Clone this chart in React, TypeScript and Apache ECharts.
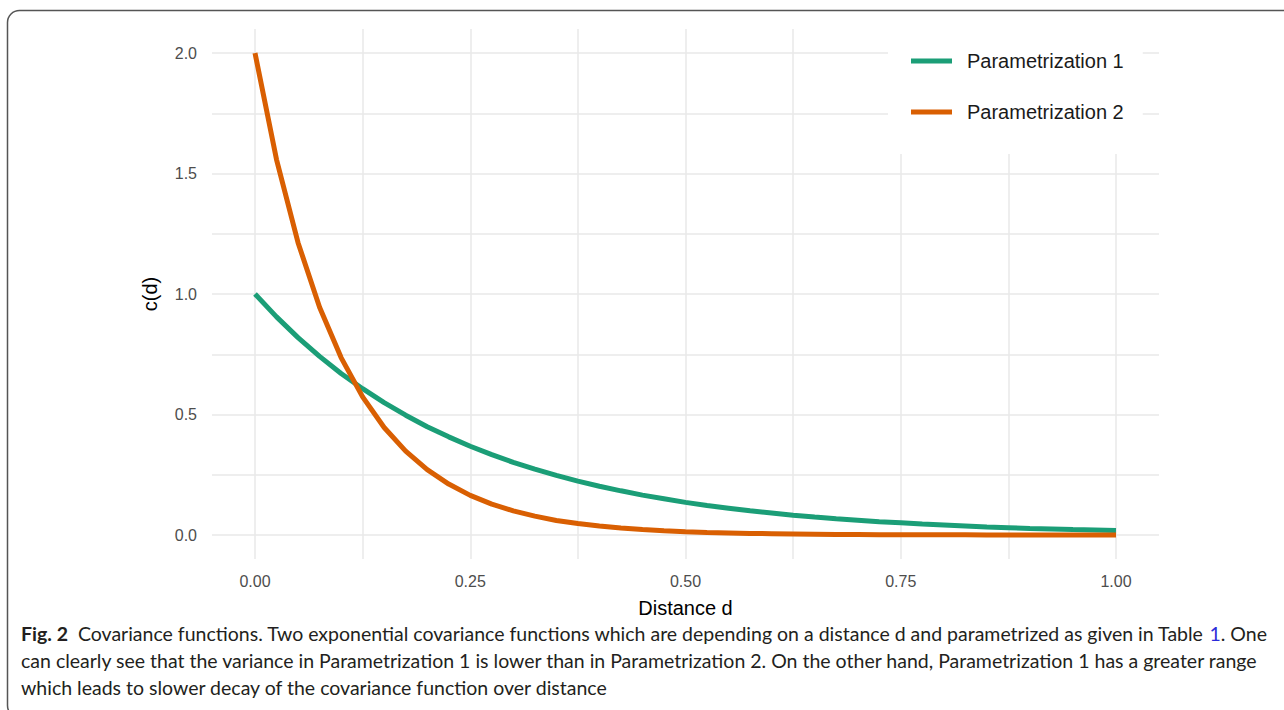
import React, { useEffect, useRef } from "react";
import * as echarts from "echarts";

const distances = [
  0, 0.025, 0.05, 0.075, 0.1, 0.125, 0.15, 0.175, 0.2, 0.225, 0.25, 0.275, 0.3, 0.325,
  0.35, 0.375, 0.4, 0.425, 0.45, 0.475, 0.5, 0.525, 0.55, 0.575, 0.6, 0.625, 0.65, 0.675,
  0.7, 0.725, 0.75, 0.775, 0.8, 0.825, 0.85, 0.875, 0.9, 0.925, 0.95, 0.975, 1.0,
];
const param1 = [
  1.0, 0.905, 0.819, 0.741, 0.67, 0.607, 0.549, 0.497, 0.449, 0.407, 0.368, 0.333, 0.301,
  0.273, 0.247, 0.223, 0.202, 0.183, 0.165, 0.15, 0.135, 0.122, 0.111, 0.1, 0.091, 0.082,
  0.074, 0.067, 0.061, 0.055, 0.05, 0.045, 0.041, 0.037, 0.033, 0.03, 0.027, 0.025, 0.022,
  0.02, 0.018,
];
const param2 = [
  2.0, 1.558, 1.213, 0.945, 0.736, 0.573, 0.446, 0.348, 0.271, 0.211, 0.164, 0.128, 0.1,
  0.078, 0.06, 0.047, 0.037, 0.029, 0.022, 0.017, 0.013, 0.01, 0.008, 0.006, 0.005, 0.004,
  0.003, 0.002, 0.002, 0.001, 0.001, 0.001, 0.001, 0.001, 0.0, 0.0, 0.0, 0.0, 0.0, 0.0, 0.0,
];
const seriesNames = ["Parametrization 1", "Parametrization 2"];
const xTickLabels = [0, 0.25, 0.5, 0.75, 1.0];
const yTickLabels = [0, 0.5, 1.0, 1.5, 2.0];
const captionLines = [
  "{b|Fig. 2}  Covariance functions. Two exponential covariance functions which are depending on a distance d and parametrized as given in Table {l|1}. One",
  "can clearly see that the variance in Parametrization 1 is lower than in Parametrization 2. On the other hand, Parametrization 1 has a greater range",
  "which leads to slower decay of the covariance function over distance",
];

const GRID_COLOR = "#e8e8e8";
const TICK_COLOR = "#4d4d4d";
const SANS = "'Liberation Sans', Arial, sans-serif";
const CAPTION_FONT = "Lato, 'Open Sans', sans-serif";
const CAPTION_SIZE = 19.5;

const isTick = (v: number, list: number[]) => list.some((t) => Math.abs(t - v) < 1e-9);

export default function App() {
  const ref = useRef<HTMLDivElement>(null);
  useEffect(() => {
    if (!ref.current) return;
    const chart = echarts.init(ref.current, null, { renderer: "svg" });
    const captionY = [633, 660, 687];
    chart.setOption({
      animation: false,
      backgroundColor: "#ffffff",
      grid: [
        { left: 255, width: 861, top: 29, height: 530 },
        { left: 212, width: 947, top: 53, height: 482 },
      ],
      xAxis: [
        {
          type: "value",
          gridIndex: 0,
          min: 0,
          max: 1,
          interval: 0.125,
          axisLine: { show: false },
          axisTick: { show: false },
          splitLine: { show: true, lineStyle: { color: GRID_COLOR, width: 1.5 } },
          axisLabel: {
            margin: 14,
            fontSize: 16,
            fontFamily: SANS,
            color: TICK_COLOR,
            formatter: (v: number) => (isTick(v, xTickLabels) ? v.toFixed(2) : ""),
          },
          name: "Distance d",
          nameLocation: "middle",
          nameGap: 39,
          nameTextStyle: { fontSize: 20, fontFamily: SANS, color: "#000" },
        },
        {
          type: "value",
          gridIndex: 1,
          min: 0,
          max: 1,
          show: false,
        },
      ],
      yAxis: [
        {
          type: "value",
          gridIndex: 0,
          min: -0.1,
          max: 2.1,
          show: false,
        },
        {
          type: "value",
          gridIndex: 1,
          min: 0,
          max: 2,
          interval: 0.25,
          axisLine: { show: false },
          axisTick: { show: false },
          splitLine: { show: true, lineStyle: { color: GRID_COLOR, width: 1.5 } },
          axisLabel: {
            margin: 15,
            fontSize: 16,
            fontFamily: SANS,
            color: TICK_COLOR,
            formatter: (v: number) => (isTick(v, yTickLabels) ? v.toFixed(1) : ""),
          },
          name: "c(d)",
          nameLocation: "middle",
          nameGap: 52,
          nameRotate: 90,
          nameTextStyle: { fontSize: 20, fontFamily: SANS, color: "#000" },
        },
      ],
      legend: {
        orient: "vertical",
        left: 888,
        top: 28,
        padding: [23, 19, 32, 23],
        backgroundColor: "#ffffff",
        itemWidth: 41,
        itemHeight: 5,
        itemGap: 31,
        icon: "rect",
        data: seriesNames,
        textStyle: {
          fontSize: 20,
          lineHeight: 20,
          fontFamily: SANS,
          color: "#1a1a1a",
          padding: [0, 0, 0, 10],
        },
      },
      series: [
        {
          name: seriesNames[0],
          type: "line",
          xAxisIndex: 0,
          yAxisIndex: 0,
          showSymbol: false,
          symbol: "none",
          color: "#1b9e77",
          lineStyle: { width: 5, color: "#1b9e77" },
          data: distances.map((d, i) => [d, param1[i]]),
          z: 3,
        },
        {
          name: seriesNames[1],
          type: "line",
          xAxisIndex: 0,
          yAxisIndex: 0,
          showSymbol: false,
          symbol: "none",
          color: "#d95f02",
          lineStyle: { width: 5, color: "#d95f02" },
          data: distances.map((d, i) => [d, param2[i]]),
          z: 3,
        },
      ],
      graphic: [
        {
          type: "rect",
          z: 100,
          shape: { x: 7.5, y: 10.5, width: 1300, height: 707, r: 12 },
          style: { fill: "none", stroke: "#555555", lineWidth: 1.5 },
        },
        ...captionLines.map((line, i) => ({
          type: "text",
          z: 100,
          x: 21,
          y: captionY[i],
          style: {
            text: line,
            fontSize: CAPTION_SIZE,
            fontFamily: CAPTION_FONT,
            fill: "#231f20",
            verticalAlign: "middle",
            rich: {
              b: {
                fontWeight: "bold",
                fontSize: CAPTION_SIZE,
                fontFamily: CAPTION_FONT,
                fill: "#231f20",
              },
              l: { fontSize: CAPTION_SIZE, fontFamily: CAPTION_FONT, fill: "#2b2bd9" },
            },
          },
        })),
      ],
    });
    return () => chart.dispose();
  }, []);
  return (
    <div
      ref={ref}
      style={{ position: "fixed", left: 0, top: 0, width: 1284, height: 710, background: "#fff" }}
    />
  );
}
